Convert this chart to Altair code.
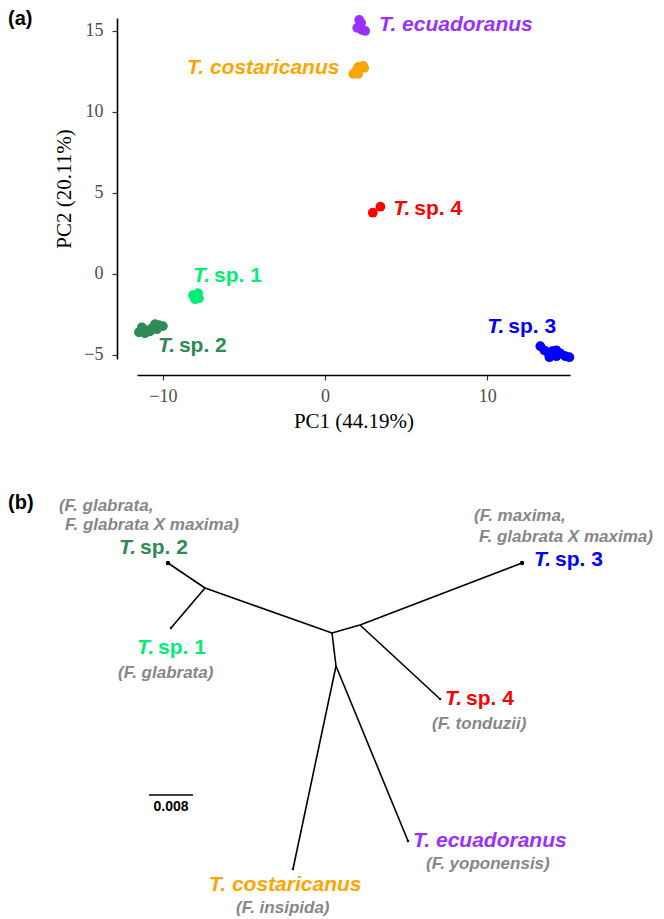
import altair as alt
import pandas as pd

# ---------------- data ----------------
species = ["T. ecuadoranus", "T. costaricanus", "T. sp. 4", "T. sp. 1", "T. sp. 2", "T. sp. 3"]
species_colors = ["#9B30FF", "#FFA500", "#FF0000", "#00EE76", "#2E8B57", "#0000FF"]

ecu_pc1 = [2.10, 2.22, 1.98, 2.28, 2.47]
ecu_pc2 = [15.68, 15.49, 15.19, 15.06, 15.00]
cos_pc1 = [2.35, 2.04, 1.73, 2.04, 1.91, 2.41]
cos_pc2 = [12.84, 12.78, 12.35, 12.35, 12.53, 12.72]
sp4_pc1 = [2.94, 3.41]
sp4_pc2 = [3.78, 4.15]
sp1_pc1 = [-8.15, -7.84, -8.02, -7.78, -7.90]
sp1_pc2 = [-1.31, -1.19, -1.56, -1.50, -1.38]
sp2_pc1 = [-11.48, -11.30, -10.99, -10.68, -10.49, -10.25, -10.00, -11.11, -10.80, -10.37]
sp2_pc2 = [-3.60, -3.29, -3.48, -3.35, -3.10, -3.16, -3.22, -3.66, -3.54, -3.41]
sp3_pc1 = [13.27, 13.52, 13.77, 14.01, 14.26, 14.51, 14.81, 15.06, 13.83, 14.26]
sp3_pc2 = [-4.46, -4.71, -4.90, -4.77, -4.71, -4.90, -5.08, -5.14, -5.14, -5.08]

pca_label_x = [3.33, -8.52, 4.20, -8.15, -10.31, 10.00]
pca_label_y = [15.37, 12.69, 4.00, -0.14, -4.46, -3.29]
label_italic = ["T. ecuadoranus", "T. costaricanus", "T.", "T.", "T.", "T."]
label_plain = ["", "", "sp. 4", "sp. 1", "sp. 2", "sp. 3"]

# tree (unrooted), branch-length units
node_names = ["B", "A", "sp2", "sp1", "C", "sp3", "sp4", "D", "cos", "ecu"]
node_x = [0.0, -0.02309, -0.02982, -0.02927, 0.00509, 0.03455, 0.01964, 0.00073, -0.00709, 0.01382]
node_y = [0.0, 0.00818, 0.01273, 0.00091, 0.00145, 0.01273, -0.01200, -0.00600, -0.04291, -0.03782]
edge_from = ["B", "A", "A", "B", "C", "C", "B", "D", "D"]
edge_to = ["A", "sp2", "sp1", "C", "sp3", "sp4", "D", "cos", "ecu"]
dot_tips = ["sp2", "sp3"]
small_tips = ["sp1", "sp4", "cos", "ecu"]

tree_label_species = ["T. sp. 2", "T. sp. 1", "T. sp. 3", "T. sp. 4", "T. ecuadoranus", "T. costaricanus"]
tree_label_x = [-0.03873, -0.03545, 0.03673, 0.02055, 0.01473, -0.02236]
tree_label_y = [0.01545, -0.00273, 0.01327, -0.01200, -0.03782, -0.04582]
tree_label_italic = ["T.", "T.", "T.", "T.", "T. ecuadoranus", "T. costaricanus"]
tree_label_plain = ["sp. 2", "sp. 1", "sp. 3", "sp. 4", "", ""]

host_text = ["(F. glabrata,", "F. glabrata X maxima)", "(F. glabrata)", "(F. maxima,",
             "F. glabrata X maxima)", "(F. tonduzii)", "(F. yoponensis)", "(F. insipida)"]
host_x = [-0.04964, -0.04855, -0.03891, 0.02582, 0.02673, 0.01818, 0.01709, -0.01745]
host_y = [0.02309, 0.01964, -0.00727, 0.02127, 0.01745, -0.01655, -0.04200, -0.05000]

scale_bar_start = -0.03327
scale_bar_length = 0.008
scale_bar_y = -0.02945

# ---------------- tables ----------------
groups = [(species[0], ecu_pc1, ecu_pc2), (species[1], cos_pc1, cos_pc2),
          (species[2], sp4_pc1, sp4_pc2), (species[3], sp1_pc1, sp1_pc2),
          (species[4], sp2_pc1, sp2_pc2), (species[5], sp3_pc1, sp3_pc2)]
rows = []
for sp, xs_, ys_ in groups:
    for a, b in zip(xs_, ys_):
        rows.append({"species": sp, "PC1": a, "PC2": b})
pca_df = pd.DataFrame(rows)
pca_lab = pd.DataFrame({"species": species, "PC1": pca_label_x, "PC2": pca_label_y,
                        "ital": label_italic, "plain": label_plain})

nodes = dict(zip(node_names, zip(node_x, node_y)))
edges_df = pd.DataFrame({
    "x": [nodes[a][0] for a in edge_from], "y": [nodes[a][1] for a in edge_from],
    "x2": [nodes[b][0] for b in edge_to], "y2": [nodes[b][1] for b in edge_to],
})
dots_df = pd.DataFrame({"x": [nodes[t][0] for t in dot_tips], "y": [nodes[t][1] for t in dot_tips]})
small_df = pd.DataFrame({"x": [nodes[t][0] for t in small_tips], "y": [nodes[t][1] for t in small_tips]})
tree_lab = pd.DataFrame({"species": tree_label_species, "x": tree_label_x, "y": tree_label_y,
                         "ital": tree_label_italic, "plain": tree_label_plain})
host_df = pd.DataFrame({"t": host_text, "x": host_x, "y": host_y})
bar_df = pd.DataFrame({"x": [scale_bar_start], "x2": [scale_bar_start + scale_bar_length],
                       "y": [scale_bar_y], "label": [f"{scale_bar_length:g}"],
                       "xm": [scale_bar_start + scale_bar_length / 2]})

# ---------------- panel (a) ----------------
color_scale = alt.Scale(domain=species, range=species_colors)
xs = alt.Scale(domain=[-11.6, 15.1], nice=False, zero=False)
ys = alt.Scale(domain=[-5.25, 15.8], nice=False, zero=False)
SANS = "Liberation Sans"
SERIF = "Liberation Serif"

x_axis = alt.Axis(title="PC1 (44.19%)", values=[-10, 0, 10], offset=16, grid=False,
                  domainColor="black", domainWidth=1.6, tickColor="#333333", tickWidth=1.2,
                  tickSize=5, labelFont=SERIF, labelFontSize=18, labelColor="#4D4D4D",
                  labelPadding=7, titleFont=SERIF, titleFontSize=21, titleFontWeight="normal",
                  titleColor="black", titlePadding=5)
y_axis = alt.Axis(title="PC2 (20.11%)", values=[-5, 0, 5, 10, 15], offset=20, grid=False,
                  domainColor="black", domainWidth=1.6, tickColor="#333333", tickWidth=1.2,
                  tickSize=5, labelFont=SERIF, labelFontSize=18, labelColor="#4D4D4D",
                  labelPadding=9, titleFont=SERIF, titleFontSize=21, titleFontWeight="normal",
                  titleColor="black", titlePadding=9)

pts = alt.Chart(pca_df).mark_circle(size=95, opacity=1).encode(
    x=alt.X("PC1:Q", scale=xs, axis=x_axis),
    y=alt.Y("PC2:Q", scale=ys, axis=y_axis),
    color=alt.Color("species:N", scale=color_scale, legend=None),
)
lab_i = alt.Chart(pca_lab).mark_text(align="left", baseline="middle", font=SANS, fontSize=21,
                                     fontStyle="italic", fontWeight="bold").encode(
    x=alt.X("PC1:Q", scale=xs, axis=x_axis), y=alt.Y("PC2:Q", scale=ys, axis=y_axis),
    text="ital:N", color=alt.Color("species:N", scale=color_scale, legend=None))
lab_p = alt.Chart(pca_lab).mark_text(align="left", baseline="middle", font=SANS, fontSize=21,
                                     fontWeight="bold", dx=21).encode(
    x=alt.X("PC1:Q", scale=xs, axis=x_axis), y=alt.Y("PC2:Q", scale=ys, axis=y_axis),
    text="plain:N", color=alt.Color("species:N", scale=color_scale, legend=None))
tag_a = alt.Chart(pd.DataFrame({"t": ["(a)"]})).mark_text(
    align="left", baseline="middle", font=SANS, fontSize=20, fontWeight="bold", color="black"
).encode(x=alt.value(-129), y=alt.value(1), text="t:N")

top = alt.layer(pts, lab_i, lab_p, tag_a).properties(width=433, height=341)

# ---------------- panel (b) ----------------
txs = alt.Scale(domain=[-0.03545, 0.04327], nice=False, zero=False)
tys = alt.Scale(domain=[-0.05, 0.02727], nice=False, zero=False)

edges = alt.Chart(edges_df).mark_rule(color="black", strokeWidth=1.6).encode(
    x=alt.X("x:Q", scale=txs, axis=None), y=alt.Y("y:Q", scale=tys, axis=None),
    x2="x2:Q", y2="y2:Q")
dots = alt.Chart(dots_df).mark_circle(size=20, color="black", opacity=1).encode(
    x=alt.X("x:Q", scale=txs, axis=None), y=alt.Y("y:Q", scale=tys, axis=None))
small = alt.Chart(small_df).mark_circle(size=6, color="black", opacity=1).encode(
    x=alt.X("x:Q", scale=txs, axis=None), y=alt.Y("y:Q", scale=tys, axis=None))
tl_i = alt.Chart(tree_lab).mark_text(align="left", baseline="middle", font=SANS, fontSize=21,
                                     fontStyle="italic", fontWeight="bold").encode(
    x=alt.X("x:Q", scale=txs, axis=None), y=alt.Y("y:Q", scale=tys, axis=None),
    text="ital:N", color=alt.Color("species:N", scale=color_scale, legend=None))
tl_p = alt.Chart(tree_lab).mark_text(align="left", baseline="middle", font=SANS, fontSize=21,
                                     fontWeight="bold", dx=21).encode(
    x=alt.X("x:Q", scale=txs, axis=None), y=alt.Y("y:Q", scale=tys, axis=None),
    text="plain:N", color=alt.Color("species:N", scale=color_scale, legend=None))
hosts = alt.Chart(host_df).mark_text(align="left", baseline="middle", font=SANS, fontSize=17,
                                     fontStyle="italic", fontWeight="bold", color="#878787").encode(
    x=alt.X("x:Q", scale=txs, axis=None), y=alt.Y("y:Q", scale=tys, axis=None), text="t:N")
bar = alt.Chart(bar_df).mark_rule(color="black", strokeWidth=1.6).encode(
    x=alt.X("x:Q", scale=txs, axis=None), x2="x2:Q", y=alt.Y("y:Q", scale=tys, axis=None))
bar_lab = alt.Chart(bar_df).mark_text(align="center", baseline="top", font=SANS, fontSize=14,
                                      fontWeight="bold", color="black", dy=5).encode(
    x=alt.X("xm:Q", scale=txs, axis=None), y=alt.Y("y:Q", scale=tys, axis=None), text="label:N")
tag_b = alt.Chart(pd.DataFrame({"t": ["(b)"]})).mark_text(
    align="left", baseline="middle", font=SANS, fontSize=20, fontWeight="bold", color="black"
).encode(x=alt.value(-129), y=alt.value(20), text="t:N")

tree = alt.layer(edges, dots, small, tl_i, tl_p, hosts, bar, bar_lab, tag_b).properties(width=433, height=425)

chart = alt.vconcat(top, tree, spacing=52).properties(
    padding={"left": 0, "top": 1, "right": 0, "bottom": 0}
).configure_view(stroke=None)

chart.save("out.html", embed_options={"renderer": "svg", "actions": False})
